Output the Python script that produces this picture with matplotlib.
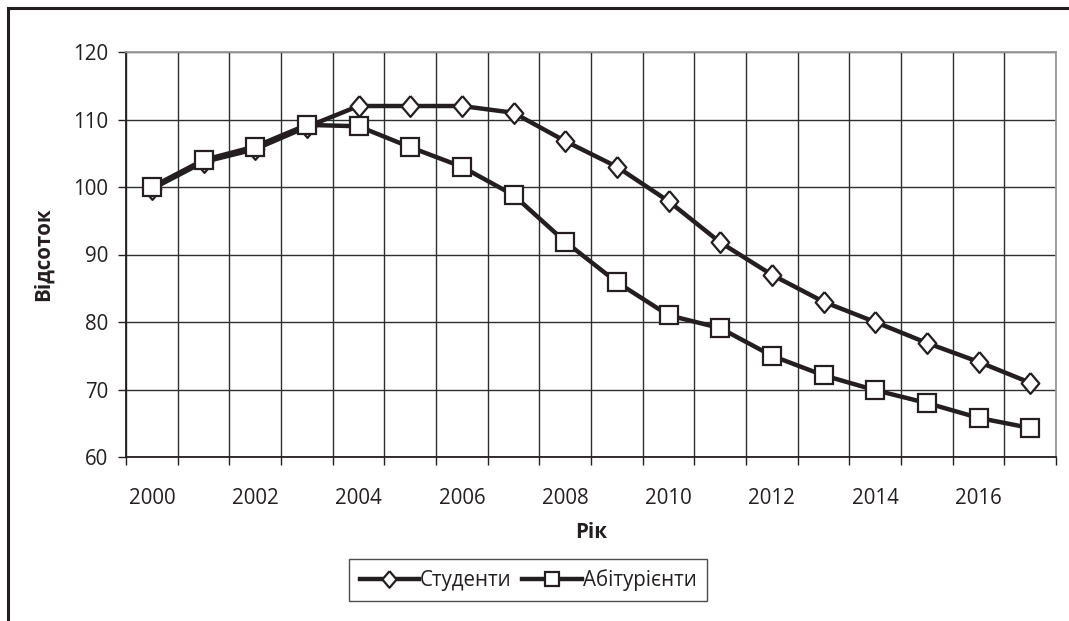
import numpy as np
import matplotlib
matplotlib.use('Agg')
import matplotlib.pyplot as plt
from matplotlib.lines import Line2D

plt.rcParams['font.family'] = ['Open Sans', 'DejaVu Sans']

# дані
years = list(range(2000, 2018))
students = [99.7, 103.7, 105.6, 108.9, 112, 112, 112, 111, 106.8, 103, 97.9, 91.8, 87, 83, 80, 76.9, 74.1, 71]
applicants = [100, 104, 106, 109.2, 109, 105.9, 103, 98.8, 91.9, 85.9, 81, 79.1, 75, 72.1, 69.9, 68, 65.8, 64.3]
tick_years = [str(y) for y in years[::2]]
y_ticks = [60, 70, 80, 90, 100, 110, 120]

ink = '#231f20'
fs = 14.8

fig = plt.figure(figsize=(10.69, 6.21), dpi=100)
ax = fig.add_axes([126 / 1069, 1 - 457 / 621, 930 / 1069, 405 / 621])

x = np.arange(len(years))
diamond = [(0, 1), (0.85, 0), (0, -1), (-0.85, 0), (0, 1)]

ax.plot(x, students, color=ink, lw=3.2, marker=diamond, ms=15, mfc='white',
        mec=ink, mew=1.6, label='Студенти', zorder=3)
ax.plot(x, applicants, color=ink, lw=3.2, marker='s', ms=12.5, mfc='white',
        mec=ink, mew=1.6, label='Абітурієнти', zorder=4)

ax.set_xlim(-0.5, len(years) - 0.5)
ax.set_ylim(60, 120)

# межі категорій - сітка і засічки
ax.set_xticks(np.arange(-0.5, len(years), 1.0))
ax.set_xticklabels([])
ax.set_xticks(x[::2], minor=True)
ax.set_xticklabels(tick_years, minor=True, fontsize=fs, color=ink)
ax.tick_params(axis='x', which='major', direction='out', length=6, width=1, color=ink)
ax.tick_params(axis='x', which='minor', length=0, pad=22)

ax.set_yticks(y_ticks)
ax.set_yticklabels([str(v) for v in y_ticks], fontsize=fs, color=ink)
ax.tick_params(axis='y', direction='out', length=6, width=1, color=ink, pad=7)

ax.grid(True, which='major', color='#2e2e2e', lw=1.0)
ax.set_axisbelow(True)

for s in ['left', 'bottom']:
    ax.spines[s].set_color(ink)
    ax.spines[s].set_linewidth(1.3)
for s in ['top', 'right']:
    ax.spines[s].set_color('#9a9a9a')
    ax.spines[s].set_linewidth(1.3)

ax.set_xlabel('Рік', fontsize=fs, fontweight='bold', color=ink, labelpad=10)
ax.set_ylabel('Відсоток', fontsize=fs, fontweight='bold', color=ink, labelpad=14)

leg = fig.legend(loc='center', bbox_to_anchor=(528 / 1069, 1 - 580 / 621), ncol=2,
                 fontsize=fs, frameon=True, fancybox=False, edgecolor=ink,
                 handlelength=2.9, handletextpad=0.05, columnspacing=0.5,
                 markerscale=0.8, borderpad=0.5, borderaxespad=0)
leg.get_frame().set_linewidth(1.0)
for t in leg.get_texts():
    t.set_color(ink)

# рамка малюнка (верх і ліво)
fig.add_artist(Line2D([8 / 1069, 1.0], [1 - 8 / 621, 1 - 8 / 621], color=ink, lw=2.2))
fig.add_artist(Line2D([8 / 1069, 8 / 1069], [0.0, 1 - 8 / 621], color=ink, lw=2.2))

fig.savefig('out.png', dpi=100)
